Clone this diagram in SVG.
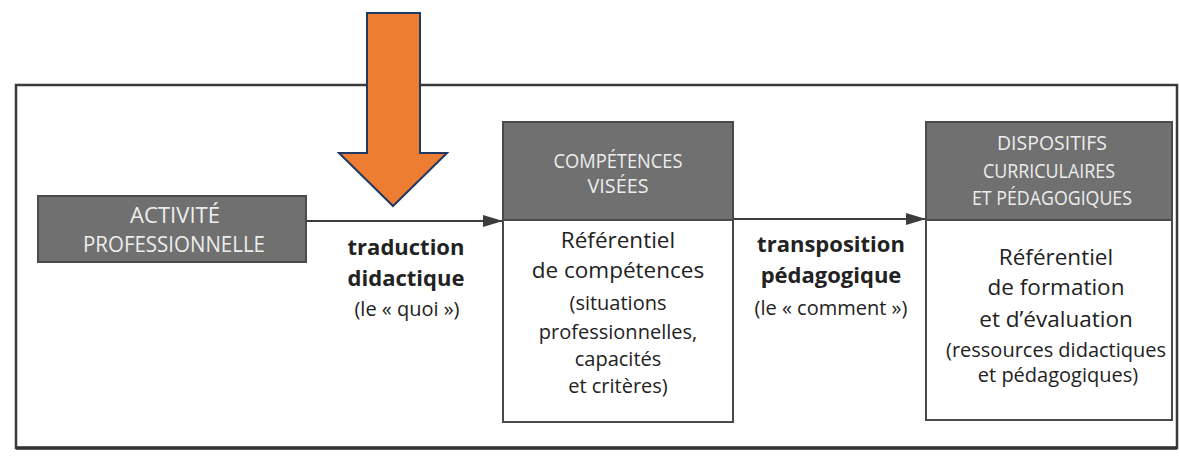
<svg xmlns="http://www.w3.org/2000/svg" width="1180" height="460" viewBox="0 0 1180 460">
  <defs>
    <style>
      .frame { fill: none; stroke: #3a3a3a; stroke-width: 2.5; }
      .hdr { fill: #707070; stroke: #4a4a4a; stroke-width: 2; }
      .body { fill: #ffffff; stroke: #4a4a4a; stroke-width: 2; }
      .htxt { font-family: "Open Sans", "Liberation Sans", sans-serif; fill: #ededed; text-anchor: middle; }
      .main { font-family: "Open Sans", "Liberation Sans", sans-serif; font-size: 22.5px; fill: #222222; text-anchor: middle; }
      .sub { font-family: "Open Sans", "Liberation Sans", sans-serif; font-size: 20px; fill: #222222; text-anchor: middle; }
      .lbl { font-family: "Open Sans", "Liberation Sans", sans-serif; font-size: 22px; font-weight: bold; fill: #222222; text-anchor: middle; }
      .conn { fill: none; stroke: #3c3c3c; stroke-width: 2; }
    </style>
    <marker id="ah" viewBox="0 0 20 12" refX="20" refY="6" markerWidth="20" markerHeight="12" markerUnits="userSpaceOnUse" orient="auto">
      <path d="M0,0 L20,6 L0,12 Z" fill="#3c3c3c"/>
    </marker>
  </defs>

  <rect x="0" y="0" width="1180" height="460" fill="#ffffff"/>

  <!-- outer frame -->
  <rect class="frame" x="16" y="85" width="1161" height="363"/>
  <line x1="16" y1="448" x2="1177" y2="448" stroke="#333" stroke-width="3.5"/>

  <!-- connectors -->
  <g id="connectors">
    <line class="conn" x1="306" y1="221" x2="503" y2="221" marker-end="url(#ah)"/>
    <line class="conn" x1="733" y1="219" x2="926" y2="219" marker-end="url(#ah)"/>
  </g>

  <!-- node 1 -->
  <g id="activite">
    <rect class="hdr" x="38" y="196" width="268" height="66"/>
    <text class="htxt" x="175" y="223" font-size="21" textLength="90" lengthAdjust="spacingAndGlyphs">ACTIVITÉ</text>
    <text class="htxt" x="174" y="252" font-size="21" textLength="182" lengthAdjust="spacingAndGlyphs">PROFESSIONNELLE</text>
  </g>

  <!-- label 1 -->
  <g id="traduction">
    <text class="lbl" x="406" y="255">traduction</text>
    <text class="lbl" x="406" y="286">didactique</text>
    <text class="sub" x="407" y="316">(le « quoi »)</text>
  </g>

  <!-- node 2 -->
  <g id="competences">
    <rect class="hdr" x="503" y="122" width="230" height="98"/>
    <rect class="body" x="503" y="220" width="230" height="202"/>
    <text class="htxt" x="618" y="168" font-size="19.5" textLength="129" lengthAdjust="spacingAndGlyphs">COMPÉTENCES</text>
    <text class="htxt" x="618" y="193" font-size="19.5" textLength="61" lengthAdjust="spacingAndGlyphs">VISÉES</text>
    <text class="main" x="618" y="248">Référentiel</text>
    <text class="main" x="618" y="278">de compétences</text>
    <text class="sub" x="618" y="310">(situations</text>
    <text class="sub" x="618" y="339">professionnelles,</text>
    <text class="sub" x="618" y="366">capacités</text>
    <text class="sub" x="618" y="393">et critères)</text>
  </g>

  <!-- label 2 -->
  <g id="transposition">
    <text class="lbl" x="831" y="252">transposition</text>
    <text class="lbl" x="831" y="283">pédagogique</text>
    <text class="sub" x="831" y="315">(le « comment »)</text>
  </g>

  <!-- node 3 -->
  <g id="dispositifs">
    <rect class="hdr" x="926" y="122" width="246" height="98"/>
    <rect class="body" x="926" y="220" width="246" height="200"/>
    <text class="htxt" x="1052" y="150" font-size="19.5" textLength="110" lengthAdjust="spacingAndGlyphs">DISPOSITIFS</text>
    <text class="htxt" x="1049" y="178" font-size="19.5" textLength="132" lengthAdjust="spacingAndGlyphs">CURRICULAIRES</text>
    <text class="htxt" x="1052" y="205" font-size="19.5" textLength="160" lengthAdjust="spacingAndGlyphs">ET PÉDAGOGIQUES</text>
    <text class="main" x="1056" y="265">Référentiel</text>
    <text class="main" x="1056" y="295">de formation</text>
    <text class="main" x="1056" y="327">et d’évaluation</text>
    <text class="sub" x="1056" y="357">(ressources didactiques</text>
    <text class="sub" x="1058" y="382">et pédagogiques)</text>
  </g>

  <!-- orange arrow -->
  <g id="orange-arrow">
    <path d="M367,13 L420,13 L420,153 L447,153 L393,206 L339,153 L367,153 Z" fill="#ED7D31" stroke="#1F3864" stroke-width="2" stroke-linejoin="miter"/>
  </g>
</svg>
